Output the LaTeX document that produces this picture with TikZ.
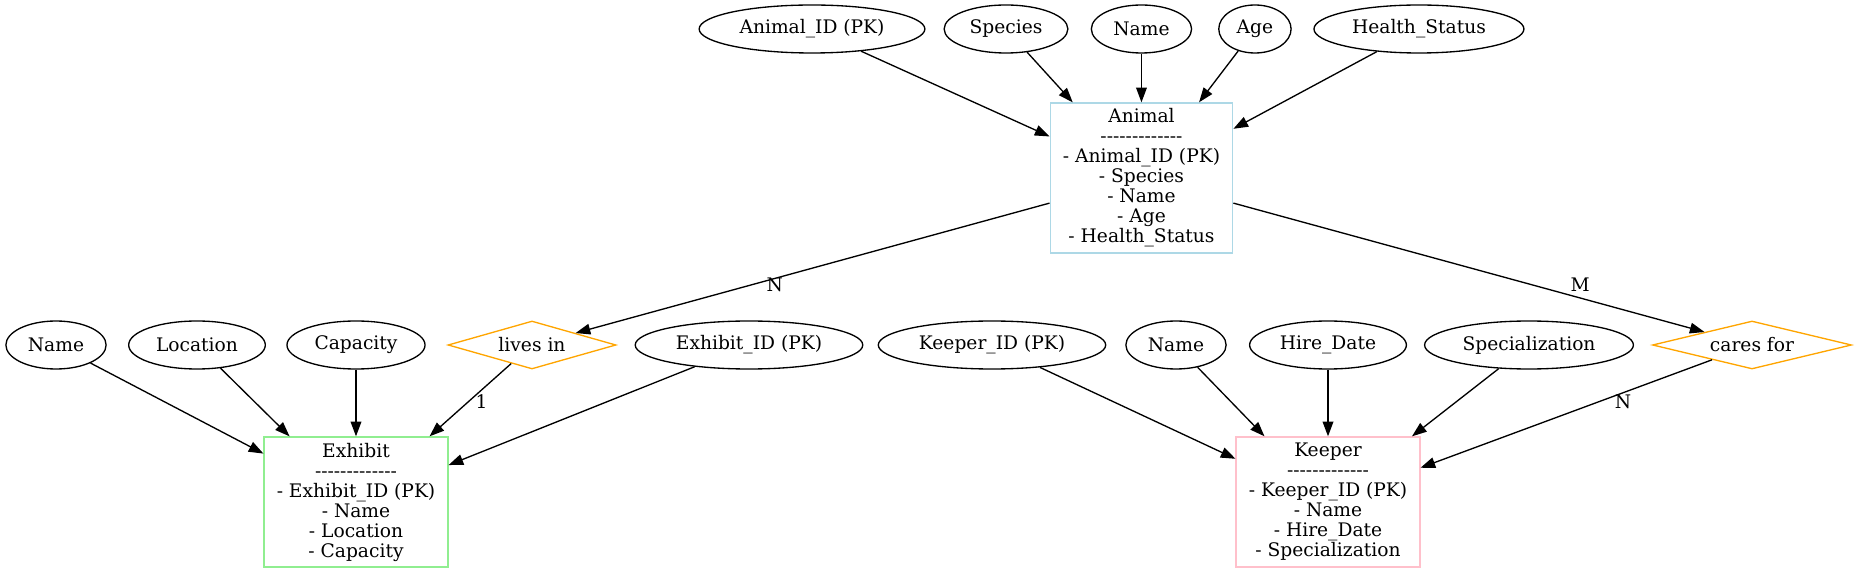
\documentclass[tikz,border=0pt]{standalone}
\usepackage{fontspec}
\setmainfont{DejaVu Serif}[Ligatures=TeXOff]
\usepackage{tikz}
\usetikzlibrary{arrows.meta,shapes}
\usepackage{xcolor}
\definecolor{blue_entity}{RGB}{173,216,230}
\definecolor{green_entity}{RGB}{144,238,144}
\definecolor{pink_entity}{RGB}{255,192,203}
\definecolor{orange_rel}{RGB}{255,165,0}

\newcommand{\dashline}{-------------}

\begin{document}
\begin{tikzpicture}[->,>={Triangle[length=11pt,width=8pt]},line width=1pt,
                      x=0.75pt,y=-0.75pt,
                      every node/.style={font=\fontsize{14}{15}\selectfont}]
    \tikzstyle{attr}=[draw,ellipse,minimum height=36pt,inner xsep=5.5pt,inner ysep=0pt]
    \tikzstyle{entity}=[draw,rectangle,align=center,inner xsep=9.5pt,inner ysep=0pt]
    \tikzstyle{rel}=[draw=orange_rel,diamond,aspect=4,inner sep=0pt,minimum height=36pt]
    \tikzstyle{card}=[inner sep=0pt]

    \useasboundingbox (0,0) rectangle (1856,573);

    % top row: attributes of Animal
    \path (812,29) node[attr] (animal_id) {Animal\_ID (PK)};
    \node[attr]    (species)[right of=animal_id,node distance=145.5pt] {Species};
    \node[attr]    (name_an)[right of=species,node distance=101.6pt]   {Name};
    \node[attr]    (age)[right of=name_an,node distance=85.1pt]        {Age};
    \node[attr]    (health)[right of=age,node distance=123pt]          {Health\_Status};

    \node[entity,draw=blue_entity,minimum height=112.5pt] (animal)[below of=name_an,node distance=111.75pt]
        {Animal\\\dashline\\- Animal\_ID (PK)\\- Species\\- Name\\- Age\\- Health\_Status};

    % middle row: attributes and relationships
    \path (56,345) node[attr] (name_ex) {Name};
    \node[attr]    (location)[right of=name_ex,node distance=105.75pt]      {Location};
    \node[attr]    (capacity)[right of=location,node distance=119.25pt]     {Capacity};
    \node[rel,minimum width=126pt]    (lives_in)[right of=capacity,node distance=132pt]  {lives in};
    \node[attr]    (exhibit_id)[right of=lives_in,node distance=162.75pt]   {Exhibit\_ID (PK)};
    \node[attr]    (keeper_id)[right of=exhibit_id,node distance=182.25pt]  {Keeper\_ID (PK)};
    \node[attr]    (name_kp)[right of=keeper_id,node distance=138pt]        {Name};
    \node[attr]    (hire_date)[right of=name_kp,node distance=114pt]        {Hire\_Date};
    \node[attr]    (special)[right of=hire_date,node distance=150.75pt]     {Specialization};
    \node[rel,minimum width=149.25pt] (cares_for)[right of=special,node distance=167.25pt] {cares for};

    \node[entity,draw=green_entity,minimum height=97.5pt] (exhibit)[below of=capacity,node distance=117.75pt]
        {Exhibit\\\dashline\\- Exhibit\_ID (PK)\\- Name\\- Location\\- Capacity};
    \node[entity,draw=pink_entity,minimum height=97.5pt] (keeper)[below of=hire_date,node distance=117.75pt]
        {Keeper\\\dashline\\- Keeper\_ID (PK)\\- Name\\- Hire\_Date\\- Specialization};

    \path (animal_id) edge (animal)
        (species) edge (animal)
        (name_an) edge (animal)
        (age) edge (animal)
        (health) edge (animal)

        (name_ex) edge (exhibit)
        (location) edge (exhibit)
        (capacity) edge (exhibit)
        (exhibit_id) edge (exhibit)

        (keeper_id) edge (keeper)
        (name_kp) edge (keeper)
        (hire_date) edge (keeper)
        (special) edge (keeper);

    \path (animal) edge     node[card,pos=0.58,yshift=-5pt] {N} (lives_in)
        (animal) edge       node[card,pos=0.736,yshift=9.7pt] {M} (cares_for)
        (lives_in) edge     node[card,pos=0.526,xshift=10pt] {1} (exhibit)
        (cares_for) edge    node[card,pos=0.305,yshift=-6.9pt] {N} (keeper);

\end{tikzpicture}
\end{document}
